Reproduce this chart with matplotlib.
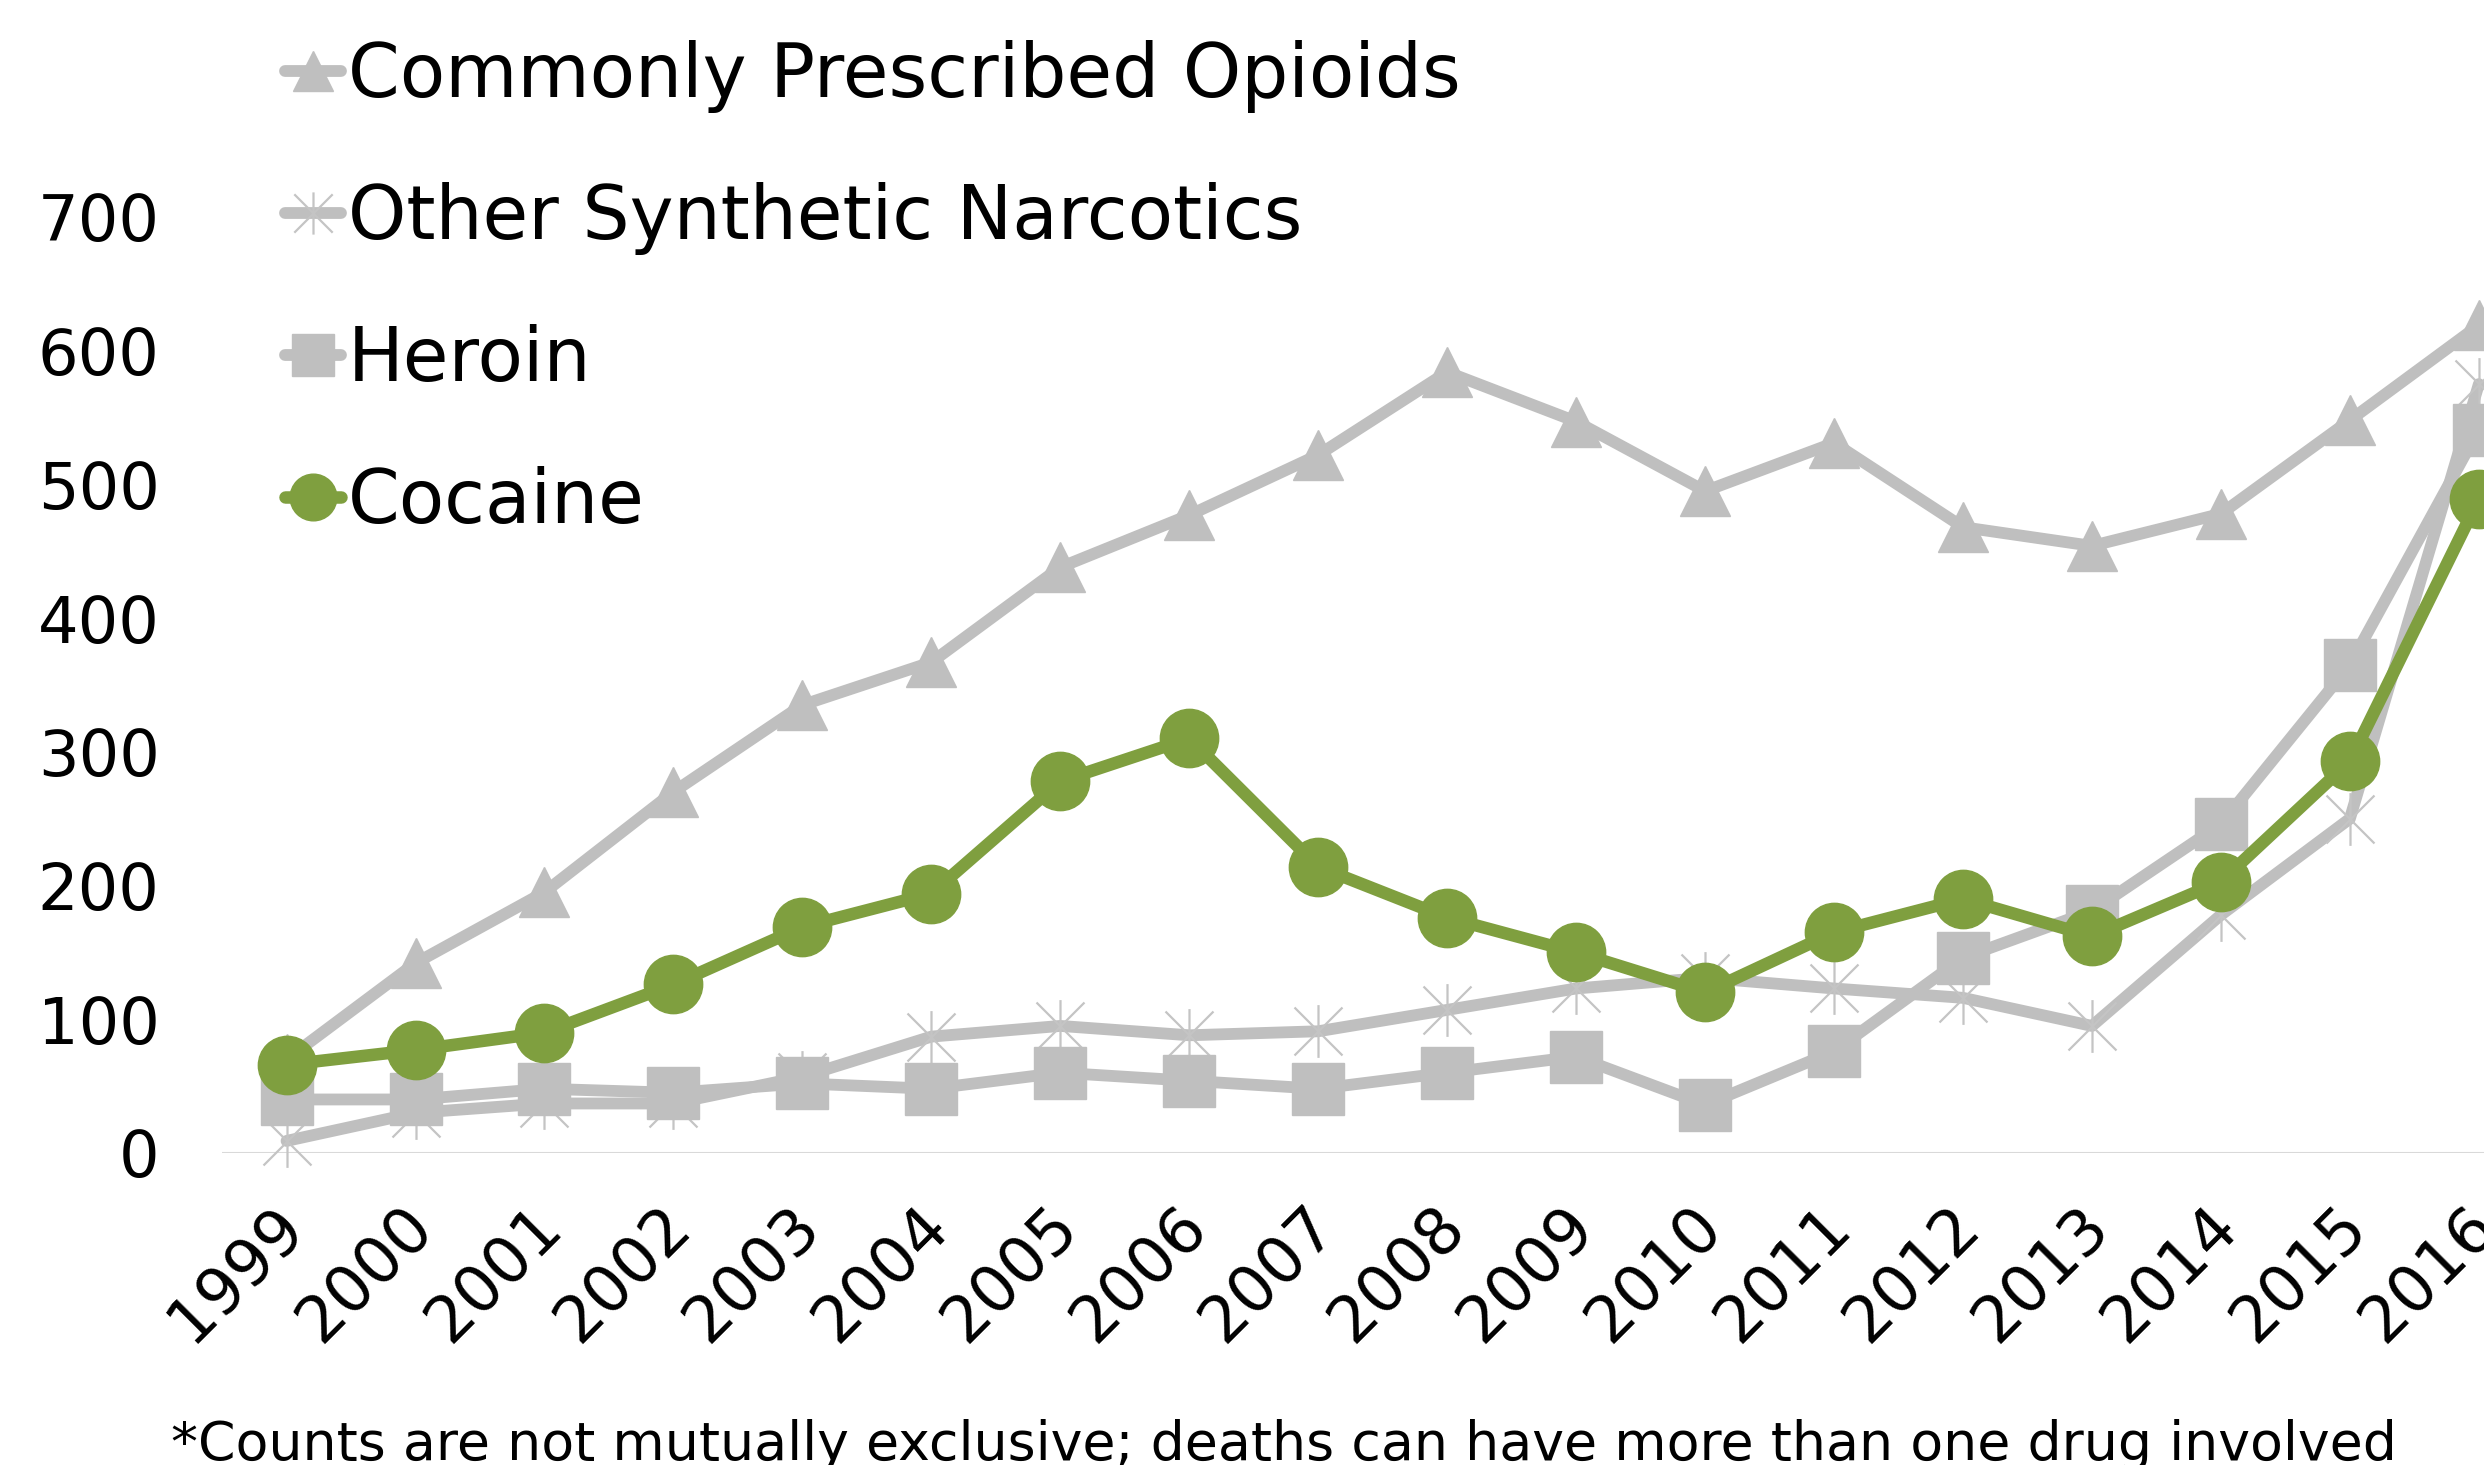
import numpy as np
import matplotlib.pyplot as plt
from matplotlib.path import Path
from matplotlib.transforms import ScaledTranslation

# Deaths by drug type, 1999-2016
years = list(range(1999, 2017))
opioids = [70, 142, 195, 270, 335, 367, 438, 477, 522, 584, 547, 495, 531, 468, 454, 478, 548, 619]
synthetic = [9, 30, 37, 37, 57, 87, 95, 88, 91, 107, 123, 131, 123, 116, 95, 178, 250, 575]
heroin = [40, 40, 48, 45, 52, 48, 60, 54, 48, 60, 72, 36, 76, 146, 181, 246, 365, 541]
cocaine = [66, 77, 90, 126, 169, 194, 278, 310, 214, 176, 150, 120, 165, 190, 162, 203, 293, 489]

labels = ["Commonly Prescribed Opioids", "Other Synthetic Narcotics", "Heroin", "Cocaine"]
y_ticks = [0, 100, 200, 300, 400, 500, 600, 700]
note = "*Counts are not mutually exclusive; deaths can have more than one drug involved"

GRAY = "#BFBFBF"
GREEN = "#7F9F3F"

plt.rcParams['font.family'] = ['DejaVu Sans']

# x with a vertical bar through it
star = Path([(-1, -1), (1, 1), (-1, 1), (1, -1), (0, -1.1), (0, 1.1)],
            [Path.MOVETO, Path.LINETO, Path.MOVETO, Path.LINETO, Path.MOVETO, Path.LINETO])

fig = plt.figure(figsize=(24.84, 14.65), dpi=100)
ax = fig.add_axes([0.0894, 0.2130, 1 - 0.0894, 0.6389])

common = dict(solid_capstyle='round', solid_joinstyle='round', clip_on=False)
ax.plot(years, opioids, color=GRAY, lw=8.5, marker='^', ms=36, mec=GRAY, mfc=GRAY,
        label=labels[0], **common)
ax.plot(years, synthetic, color=GRAY, lw=8.5, marker=star, ms=38, mec="#C4C4C4",
        mew=1.6, label=labels[1], **common)
ax.plot(years, heroin, color=GRAY, lw=8.5, marker='s', ms=38, mec=GRAY, mfc=GRAY,
        label=labels[2], **common)
ax.plot(years, cocaine, color=GREEN, lw=9, marker='o', ms=42, mec=GREEN, mfc=GREEN,
        label=labels[3], **common)

ax.axhline(0, color="#D9D9D9", lw=1.5, zorder=0)

ax.set_xlim(1998.5, 2016.04)
ax.set_ylim(0, 700)
ax.set_yticks(y_ticks)
ax.set_xticks(years)
ax.set_xticklabels([str(y) for y in years], rotation=45, ha='right', va='top')
ax.tick_params(axis='y', length=0, pad=45, labelsize=46)
ax.tick_params(axis='x', length=0, pad=30, labelsize=46)
shift = ScaledTranslation(21 / 72, 0, fig.dpi_scale_trans)
for lab in ax.get_xticklabels():
    lab.set_transform(lab.get_transform() + shift)
for s in ax.spines.values():
    s.set_visible(False)

leg = ax.legend(loc='upper left', bbox_to_anchor=(285 / 2484, 0.973),
                bbox_transform=fig.transFigure, frameon=False, fontsize=53.5,
                handlelength=0.75, handletextpad=0.1, labelspacing=0.93,
                borderpad=0, borderaxespad=0, markerscale=0.8)

fig.text(171 / 2484, 5 / 1465, note, fontsize=38.7, ha='left', va='baseline')

fig.savefig("out.png", dpi=100)
